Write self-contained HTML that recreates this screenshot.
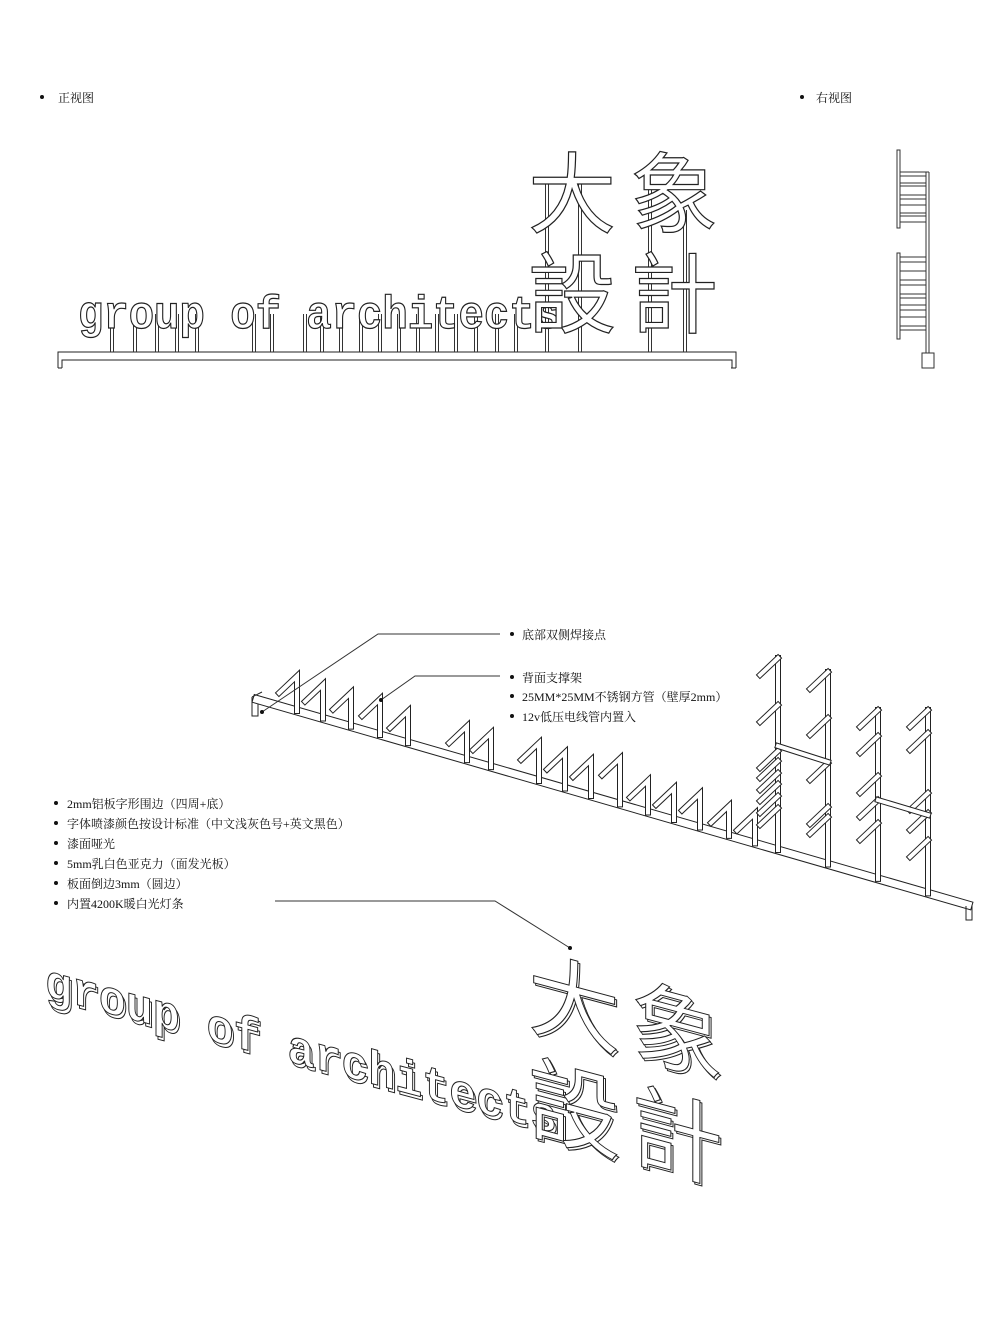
<!DOCTYPE html>
<html><head><meta charset="utf-8">
<style>
html,body{margin:0;padding:0;background:#fff;}
svg{display:block;}
text{font-family:"Liberation Serif","Noto Serif CJK SC","Noto Sans CJK SC",serif;}
.lbl{font-size:12px;fill:#111;}
.ol{fill:#fff;stroke:#222;stroke-width:1;}
.mono{font-family:'Liberation Mono',monospace;font-weight:bold;}
.cjk{font-family:'Noto Sans CJK SC',sans-serif;font-weight:400;}
</style></head>
<body>
<svg id="s" width="993" height="1324" viewBox="0 0 993 1324" xmlns="http://www.w3.org/2000/svg">
<circle cx="42" cy="97" r="2" fill="#111"/><text class="lbl" x="58" y="102">正视图</text>
<circle cx="802" cy="97" r="2" fill="#111"/><text class="lbl" x="816" y="102">右视图</text>

<g id="front" stroke="#222" fill="none" stroke-width="1">
<path d="M58 368 V352 H736 V368 M62 368 V360 H732 V368 M731 368 H736 M58 368 H62"/>
</g>
<g id="fposts" stroke="#333" stroke-width="1"></g>
<text x="78" y="328" textLength="482" lengthAdjust="spacingAndGlyphs" font-size="46" class="ol mono" style="stroke-width:1.2">group of architects</text>
<text x="528" y="226" font-size="88" class="ol cjk" style="stroke-width:1.2" textLength="190" lengthAdjust="spacing">大象</text>
<text x="528" y="326" font-size="88" class="ol cjk" style="stroke-width:1.2" textLength="190" lengthAdjust="spacing">設計</text>

<g stroke="#333" fill="none" stroke-width="1">
<rect x="897" y="150" width="3" height="78" fill="#fff"/>
<rect x="897" y="253" width="3" height="86" fill="#fff"/>
<path d="M926 172 V355 M929 172 V355 M900 172 H929 M900 176 H926 M900 183 H926 M900 186 H926 M900 195 H926 M900 199 H926 M900 205 H926 M900 213 H926 M900 216 H926 M900 222 H926 M900 257 H926 M900 262 H926 M900 271 H926 M900 280 H926 M900 285 H926 M900 294 H926 M900 298 H926 M900 305 H926 M900 310 H926 M900 317 H926 M900 326 H926 M900 330 H926"/>
<rect x="922" y="353" width="12" height="15" fill="#fff"/>
</g>

<g id="iso" fill="none"></g>

<g stroke="#333" fill="none" stroke-width="1">
<path d="M500 634 H378 L262 712"/>
<path d="M500 676 H415 L381 700"/>
<path d="M275 901 H495 L570 948"/>
</g>
<circle cx="262" cy="712" r="2" fill="#111"/>
<circle cx="381" cy="700" r="2" fill="#111"/>
<circle cx="570" cy="948" r="2" fill="#111"/>

<g>
<circle cx="512" cy="634" r="2" fill="#111"/><text class="lbl" x="522" y="639">底部双侧焊接点</text>
<circle cx="512" cy="677" r="2" fill="#111"/><text class="lbl" x="522" y="682">背面支撑架</text>
<circle cx="512" cy="696" r="2" fill="#111"/><text class="lbl" x="522" y="701">25MM*25MM不锈钢方管（壁厚2mm）</text>
<circle cx="512" cy="716" r="2" fill="#111"/><text class="lbl" x="522" y="721">12v低压电线管内置入</text>
<circle cx="56" cy="803" r="2" fill="#111"/><text class="lbl" x="67" y="808">2mm铝板字形围边（四周+底）</text>
<circle cx="56" cy="823" r="2" fill="#111"/><text class="lbl" x="67" y="828">字体喷漆颜色按设计标准（中文浅灰色号+英文黑色）</text>
<circle cx="56" cy="843" r="2" fill="#111"/><text class="lbl" x="67" y="848">漆面哑光</text>
<circle cx="56" cy="863" r="2" fill="#111"/><text class="lbl" x="67" y="868">5mm乳白色亚克力（面发光板）</text>
<circle cx="56" cy="883" r="2" fill="#111"/><text class="lbl" x="67" y="888">板面倒边3mm（圆边）</text>
<circle cx="56" cy="903" r="2" fill="#111"/><text class="lbl" x="67" y="908">内置4200K暖白光灯条</text>
</g>

<g transform="translate(45,996) skewY(15)">
<text x="2" y="3" textLength="512" lengthAdjust="spacingAndGlyphs" font-size="48" class="ol mono">group of architects</text>
<text x="0" y="0" textLength="512" lengthAdjust="spacingAndGlyphs" font-size="48" class="ol mono">group of architects</text>
</g>
<g transform="translate(528,880) skewY(15)">
<text x="2" y="147" font-size="92" class="ol cjk" textLength="195" lengthAdjust="spacing">大象</text>
<text x="0" y="145" font-size="92" class="ol cjk" textLength="195" lengthAdjust="spacing">大象</text>
<text x="2" y="252" font-size="92" class="ol cjk" textLength="195" lengthAdjust="spacing">設計</text>
<text x="0" y="250" font-size="92" class="ol cjk" textLength="195" lengthAdjust="spacing">設計</text>
</g>
</svg>
<script>
(function(){
var NS="http://www.w3.org/2000/svg";
function el(p,t,a){var e=document.createElementNS(NS,t);for(var k in a)e.setAttribute(k,a[k]);p.appendChild(e);return e;}
var fp=document.getElementById('fposts');
var pairs=[112,135,157,177,197,254,272,305,322,341,361,380,399,418,437,456,476,497,516];
pairs.forEach(function(x){el(fp,'line',{x1:x-1.5,y1:314,x2:x-1.5,y2:352});el(fp,'line',{x1:x+1.5,y1:314,x2:x+1.5,y2:352});});
[[547,180],[580,180],[650,185],[685,210]].forEach(function(p){el(fp,'line',{x1:p[0]-1.5,y1:p[1],x2:p[0]-1.5,y2:352});el(fp,'line',{x1:p[0]+1.5,y1:p[1],x2:p[0]+1.5,y2:352});});
var g=document.getElementById('iso');
function dbl(d,w){w=w||6;el(g,'path',{d:d,stroke:'#222','stroke-width':w,'stroke-linejoin':'miter','stroke-linecap':'square'});el(g,'path',{d:d,stroke:'#fff','stroke-width':w-2,'stroke-linejoin':'miter','stroke-linecap':'square'});}
function by(x){return 698+(x-252)*0.289;}
dbl('M257 '+by(257)+' L968 '+by(968),9);
el(g,'path',{d:'M252 697 L262 692 M252 697 V716 H258 V704 M972 905 V920 H966 V906',stroke:'#222','stroke-width':1});
var shorts=[[297,35],[323,34],[351,34],[380,36],[408,32],[467,34],[491,34],[539,38],[565,36],[591,36],[620,46],[648,32],[674,32],[700,34],[729,30],[755,30]];
shorts.forEach(function(s){var x=s[0],b=by(x),t=b-s[1];dbl('M'+(x-18)+' '+(t+17)+' L'+x+' '+t+' V'+b);});
var talls=[[778,658,[658,705,751,761,773,784,796,808]],[828,672,[672,718,763,807,817]],[878,710,[710,736,776,800,823]],[928,710,[710,733,793,813,840]]];
talls.forEach(function(T){var x=T[0],b=by(x);dbl('M'+x+' '+T[1]+' V'+b);T[2].forEach(function(y){dbl('M'+(x-18)+' '+(y+17)+' L'+x+' '+y);});});
dbl('M778 746 L828 762');dbl('M878 800 L928 815');
})();
</script>
</body></html>
